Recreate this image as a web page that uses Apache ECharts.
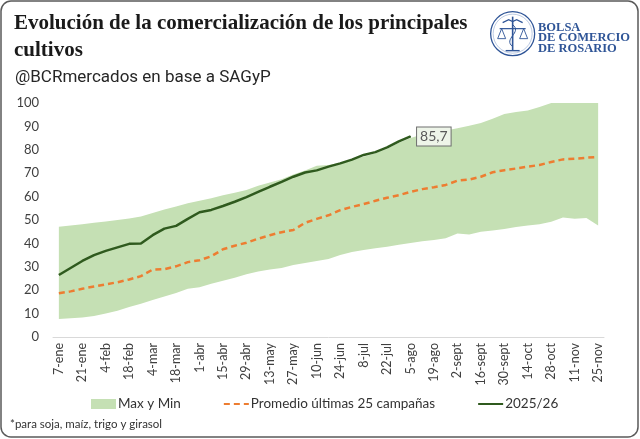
<!DOCTYPE html>
<html>
<head>
<meta charset="utf-8">
<script src="https://cdn.jsdelivr.net/npm/echarts@6/dist/echarts.min.js"></script>
<style>
  html, body { margin: 0; padding: 0; background: #fff; }
  #chart1 { width: 640px; height: 439px; }
</style>
</head>
<body>
<div id="chart1"></div>
<script>
// semanas (una categoria por semana, se rotula cada dos)
var weeks = ['7-ene', '14-ene', '21-ene', '28-ene', '4-feb', '11-feb', '18-feb', '25-feb',
    '4-mar', '11-mar', '18-mar', '25-mar', '1-abr', '8-abr', '15-abr', '22-abr', '29-abr',
    '6-may', '13-may', '20-may', '27-may', '3-jun', '10-jun', '17-jun', '24-jun', '1-jul',
    '8-jul', '15-jul', '22-jul', '29-jul', '5-ago', '12-ago', '19-ago', '26-ago', '2-sept',
    '9-sept', '16-sept', '23-sept', '30-sept', '7-oct', '14-oct', '21-oct', '28-oct',
    '4-nov', '11-nov', '18-nov', '25-nov'];

var maxValues = [47.1, 47.6, 48.2, 48.8, 49.4, 50.0, 50.6, 51.5, 53.0, 54.5, 55.8, 57.2,
    58.2, 59.3, 60.6, 61.6, 62.8, 64.6, 66.0, 67.4, 69.4, 71.2, 73.2, 73.5, 74.5, 76.0,
    77.0, 78.5, 80.5, 83.0, 85.0, 86.5, 87.5, 88.3, 89.2, 90.3, 91.5, 93.3, 95.3, 96.2,
    96.8, 98.3, 100, 100, 100, 100, 100];

var minValues = [7.7, 8.0, 8.3, 9.0, 10.0, 11.2, 12.8, 14.2, 15.8, 17.3, 18.8, 20.6, 21.3,
    22.8, 24.0, 25.3, 26.8, 28.0, 28.8, 29.5, 30.8, 31.6, 32.5, 33.3, 35.0, 36.3, 37.2,
    37.9, 38.6, 39.4, 40.2, 40.9, 41.4, 42.2, 44.2, 43.8, 45.0, 45.5, 46.2, 47.0, 47.6,
    48.2, 49.3, 51.1, 50.5, 50.9, 47.6];

var avgValues = [18.7, 19.5, 20.6, 21.6, 22.5, 23.4, 24.6, 26.0, 28.8, 29.0, 30.2, 32.0,
    32.8, 34.5, 37.5, 39.0, 40.3, 42.0, 43.5, 44.8, 45.7, 48.8, 50.5, 52.0, 54.2, 55.6,
    56.8, 58.2, 59.5, 60.6, 62.0, 63.2, 64.0, 65.0, 66.8, 67.3, 68.5, 70.4, 71.3, 72.0,
    72.8, 73.5, 74.8, 75.9, 76.2, 76.6, 77.0];

var currentValues = [26.5, 29.5, 32.5, 35.0, 36.8, 38.3, 39.8, 40.0, 43.5, 46.3, 47.5,
    50.5, 53.3, 54.3, 56.0, 57.8, 59.8, 62.0, 64.2, 66.3, 68.5, 70.3, 71.2, 72.8, 74.2,
    75.8, 77.8, 79.0, 81.0, 83.6, 85.7];

var yTicks = [0, 10, 20, 30, 40, 50, 60, 70, 80, 90, 100];

var chart1 = echarts.init(document.getElementById('chart1'));

var bandData = maxValues.map(function (v, i) {
    return +(v - minValues[i]).toFixed(1);
});

var lastIdx = currentValues.length - 1;
var currentData = currentValues.map(function (v, i) {
    if (i !== lastIdx) return v;
    return {
        value: v,
        symbol: 'circle',
        symbolSize: 1,
        label: {
            show: true,
            position: 'right',
            distance: 6,
            formatter: String(v).replace('.', ','),
            color: '#595959',
            fontFamily: 'Lato',
            fontSize: 14,
            backgroundColor: '#eef5e9',
            borderColor: '#6f6f6f',
            borderWidth: 1,
            padding: [3, 3, 1, 3]
        }
    };
});

var sans = 'Lato';
var blue = '#2f5597';

var option = {
    animation: false,
    backgroundColor: '#fff',
    title: [{
        text: 'Evolución de la comercialización de los principales\ncultivos',
        left: 9,
        top: 5,
        textStyle: {
            fontFamily: 'Liberation Serif',
            fontWeight: 'bold',
            fontSize: 21,
            lineHeight: 27,
            color: '#1a1a1a'
        }
    }, {
        text: '@BCRmercados en base a SAGyP',
        left: 10,
        top: 64,
        textStyle: {
            fontFamily: 'Roboto',
            fontWeight: 'normal',
            fontSize: 17,
            color: '#262626'
        }
    }],
    legend: {
        bottom: 23,
        left: 86,
        itemGap: 42,
        itemWidth: 25,
        itemHeight: 10,
        textStyle: { fontFamily: sans, fontSize: 13.5, color: '#333', padding: [0, 0, 0, -3] },
        data: [
            { name: 'Max y Min', icon: 'rect' },
            { name: 'Promedio últimas 25 campañas', itemStyle: { opacity: 0 } },
            { name: '2025/26', itemStyle: { opacity: 0 } }
        ]
    },
    grid: {
        left: 53,
        right: 36,
        top: 103,
        bottom: 102
    },
    xAxis: {
        type: 'category',
        data: weeks,
        boundaryGap: true,
        axisLine: { lineStyle: { color: '#d9d9d9', width: 1 } },
        axisTick: { interval: 1, length: 5, lineStyle: { color: '#d9d9d9' } },
        axisLabel: {
            interval: 1,
            rotate: 90,
            margin: 6,
            fontFamily: sans,
            fontSize: 12.5,
            color: '#404040'
        }
    },
    yAxis: {
        type: 'value',
        min: yTicks[0],
        max: yTicks[yTicks.length - 1],
        interval: 10,
        splitLine: { show: false },
        axisLine: { show: false },
        axisTick: { show: false },
        axisLabel: {
            margin: 14,
            fontFamily: sans,
            fontSize: 13,
            color: '#404040'
        }
    },
    series: [{
        name: 'base',
        type: 'line',
        stack: 'band',
        data: minValues,
        symbol: 'none',
        lineStyle: { opacity: 0 },
        silent: true
    }, {
        name: 'Max y Min',
        type: 'line',
        stack: 'band',
        data: bandData,
        symbol: 'none',
        itemStyle: { color: '#c5e0b4' },
        lineStyle: { width: 0, opacity: 0 },
        areaStyle: { color: '#c5e0b4', opacity: 1 }
    }, {
        name: 'Promedio últimas 25 campañas',
        type: 'line',
        data: avgValues,
        symbol: 'none',
        itemStyle: { color: '#ed7d31' },
        lineStyle: { color: '#ed7d31', width: 2.5, type: [6, 4] }
    }, {
        name: '2025/26',
        type: 'line',
        data: currentData,
        symbol: 'none',
        itemStyle: { color: '#2f5a1e' },
        lineStyle: { color: '#2f5a1e', width: 2.5 },
        z: 5
    }],
    graphic: [{
        // marco redondeado
        type: 'rect',
        shape: { x: 1, y: 1, width: 637, height: 436, r: 10 },
        style: { fill: 'none', stroke: '#5a5a5a', lineWidth: 1.5 },
        z: 10
    }, {
        type: 'text',
        left: 10,
        top: 418,
        style: {
            text: '*para soja, maíz, trigo y girasol',
            fontFamily: sans,
            fontSize: 11.5,
            fill: '#333'
        }
    }, {
        // logo BCR
        type: 'group',
        left: 490,
        top: 11,
        children: [{
            type: 'circle',
            shape: { cx: 23, cy: 23, r: 22 },
            style: { fill: '#fff', stroke: blue, lineWidth: 1.3 }
        }, {
            type: 'circle',
            shape: { cx: 23, cy: 23, r: 19.5 },
            style: { fill: 'none', stroke: '#8ea6cf', lineWidth: 0.6 }
        }, {
            type: 'line',
            shape: { x1: 23, y1: 6, x2: 23, y2: 40 },
            style: { stroke: blue, lineWidth: 1.6 }
        }, {
            type: 'polyline',
            shape: { points: [[13, 12], [19, 9], [23, 11], [27, 9], [33, 12]] },
            style: { stroke: blue, fill: 'none', lineWidth: 1.2 }
        }, {
            type: 'line',
            shape: { x1: 10, y1: 18, x2: 36, y2: 18 },
            style: { stroke: blue, lineWidth: 1.2 }
        }, {
            type: 'polyline',
            shape: { points: [[12, 18], [8, 28], [16, 28], [12, 18]] },
            style: { stroke: blue, fill: 'none', lineWidth: 0.9 }
        }, {
            type: 'polyline',
            shape: { points: [[34, 18], [30, 28], [38, 28], [34, 18]] },
            style: { stroke: blue, fill: 'none', lineWidth: 0.9 }
        }, {
            type: 'bezierCurve',
            shape: { x1: 23, y1: 14, x2: 23, y2: 36, cpx1: 33, cpy1: 22, cpx2: 13, cpy2: 28 },
            style: { stroke: blue, fill: 'none', lineWidth: 1 }
        }, {
            type: 'line',
            shape: { x1: 16, y1: 40, x2: 30, y2: 40 },
            style: { stroke: blue, lineWidth: 1.4 }
        }]
    }, {
        type: 'text',
        left: 538,
        top: 21,
        style: {
            text: 'BOLSA\nDE COMERCIO\nDE ROSARIO',
            fontFamily: 'Liberation Serif',
            fontWeight: 'bold',
            fontSize: 12.5,
            lineHeight: 10.5,
            fill: blue
        }
    }]
};
chart1.setOption(option, true);
</script>
</body>
</html>
